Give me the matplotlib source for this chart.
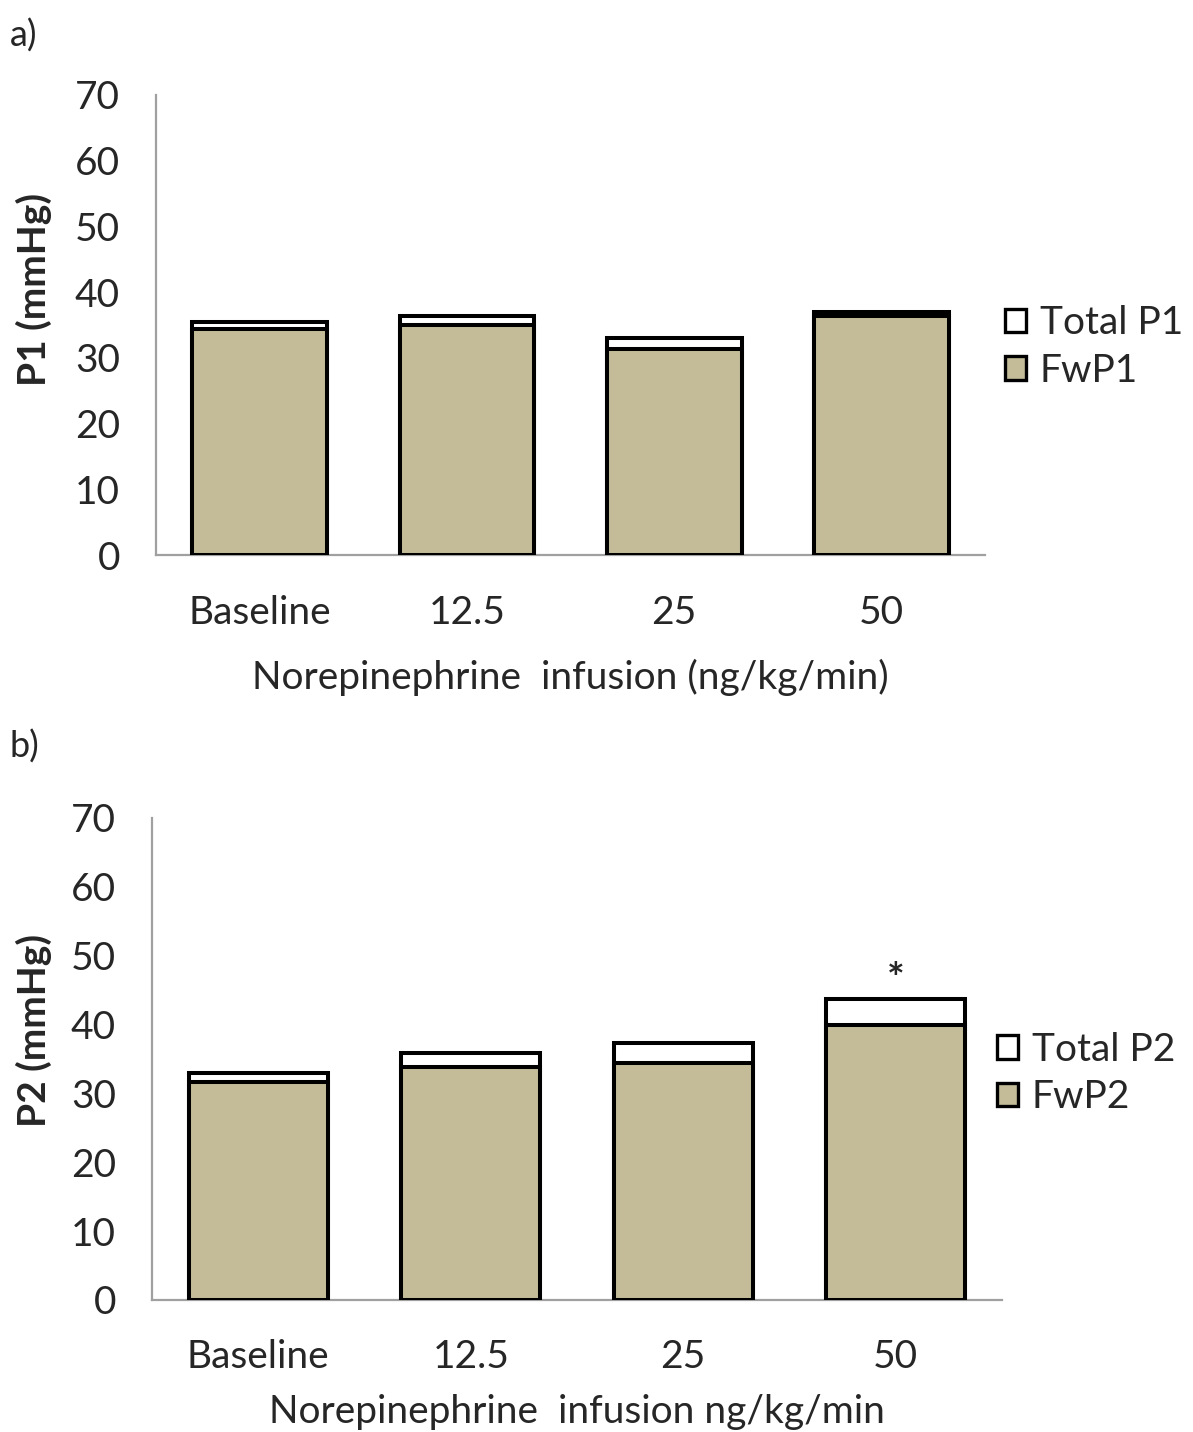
import matplotlib.pyplot as plt
from matplotlib.patches import Patch

plt.rcParams['font.family'] = ['Lato', 'DejaVu Sans']

categories = ['Baseline', '12.5', '25', '50']
total_p1 = [35.5, 36.4, 33.0, 37.0]
fw_p1 = [34.4, 35.0, 31.4, 36.4]
total_p2 = [32.9, 35.9, 37.3, 43.7]
fw_p2 = [31.7, 33.8, 34.4, 39.9]
significant_p2 = [False, False, False, True]

fill = '#c4bc98'
text_col = '#262626'
edge_lw = 2.9

fig = plt.figure(figsize=(11.93, 14.32), dpi=100)
ax_a = fig.add_axes([0.1308, 0.6124, 0.6949, 0.3213])
ax_b = fig.add_axes([0.1274, 0.0922, 0.7125, 0.3366])


def draw_panel(ax, total, fw, name, xlabel, width, leg_pos, ylab_pos, xpad, xlabpad):
    x = range(len(categories))
    ax.bar(x, total, width=width, color='white', edgecolor='black', linewidth=edge_lw, zorder=2)
    ax.bar(x, fw, width=width, color=fill, edgecolor='black', linewidth=edge_lw, zorder=3)
    ax.set_xlim(-0.5, len(categories) - 0.5)
    ax.set_ylim(0, 70)
    ax.set_yticks(range(0, 71, 10))
    ax.set_xticks(list(x))
    ax.set_xticklabels(categories)
    ax.tick_params(axis='both', length=0, labelsize=28, colors=text_col)
    ax.tick_params(axis='x', pad=xpad)
    ax.tick_params(axis='y', pad=26)
    for s in ['top', 'right']:
        ax.spines[s].set_visible(False)
    for s in ['left', 'bottom']:
        ax.spines[s].set_color('#a0a0a0')
        ax.spines[s].set_linewidth(1.6)
    ax.set_ylabel(f'{name} (mmHg)', fontsize=28, fontweight='bold', color=text_col)
    ax.yaxis.set_label_coords(*ylab_pos)
    ax.set_xlabel(xlabel, fontsize=28, color=text_col, labelpad=xlabpad)
    handles = [Patch(facecolor='white', edgecolor='black', linewidth=2.4, label=f'Total {name}'),
               Patch(facecolor=fill, edgecolor='black', linewidth=2.4, label=f'Fw{name}')]
    ax.legend(handles=handles, loc='center left', bbox_to_anchor=leg_pos, frameon=False,
              fontsize=28, handlelength=0.55, handleheight=0.55, handletextpad=0.35,
              labelspacing=0.3, borderaxespad=0, borderpad=0, labelcolor=text_col)


draw_panel(ax_a, total_p1, fw_p1, 'P1', 'Norepinephrine  infusion (ng/kg/min)', 0.65,
           (1.024, 0.452), (-0.1255, 0.578), 29, 20)
draw_panel(ax_b, total_p2, fw_p2, 'P2', 'Norepinephrine  infusion ng/kg/min', 0.655,
           (0.994, 0.47), (-0.118, 0.56), 28, 14)

# significance marker above the bar
for i, sig in enumerate(significant_p2):
    if sig:
        ax_b.text(i, total_p2[i] + 0.9, '*', ha='center', va='baseline', fontsize=30,
                  fontweight='bold', color=text_col)

fig.text(0.008, 0.975, 'a)', fontsize=26, color=text_col, va='center')
fig.text(0.008, 0.479, 'b)', fontsize=26, color=text_col, va='center')

fig.savefig('out.png', dpi=100, facecolor='white')
